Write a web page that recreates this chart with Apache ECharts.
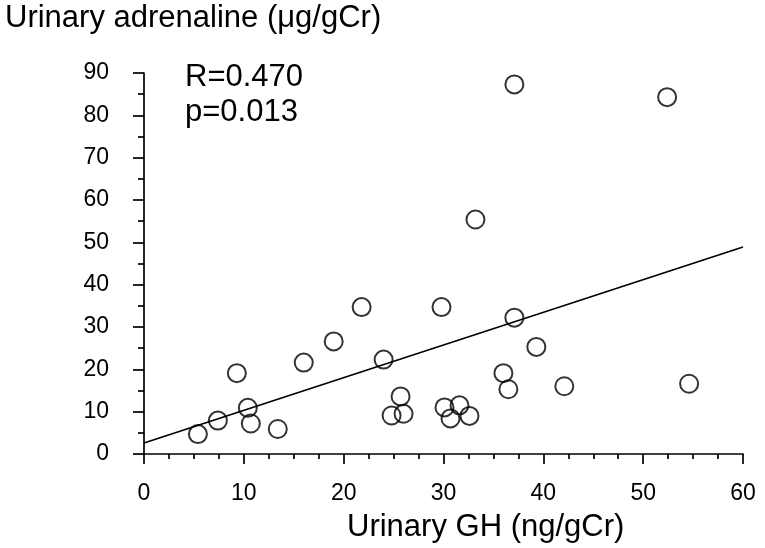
<!DOCTYPE html>
<html>
<head>
<meta charset="utf-8">
<script src="https://cdn.jsdelivr.net/npm/echarts@6/dist/echarts.min.js"></script>
<style>
html,body{margin:0;padding:0;background:#fff;}
#chart{width:765px;height:548px;}
</style>
</head>
<body>
<div id="chart"></div>
<script>
// Urinary GH (ng/gCr)
const ghValues = [5.4, 7.4, 10.4, 10.7, 13.4, 9.3, 16.0, 19.0, 21.8, 24.0, 29.8, 37.1, 39.3, 36.0, 36.5, 42.1, 25.7, 24.8, 26.0, 30.1, 31.6, 30.7, 32.6, 37.1, 52.4, 33.2, 54.6];
// Urinary adrenaline (µg/gCr)
const adrenalineValues = [4.7, 7.9, 10.9, 7.2, 5.9, 19.1, 21.6, 26.6, 34.7, 22.3, 34.7, 32.2, 25.3, 19.1, 15.3, 16.0, 13.6, 9.1, 9.5, 11.0, 11.5, 8.4, 9.0, 87.3, 84.3, 55.4, 16.6];
// regression line end points
const fitX = [0, 60];
const fitY = [2.6, 48.9];
const xTicks = [0, 10, 20, 30, 40, 50, 60];
const yTicks = [0, 10, 20, 30, 40, 50, 60, 70, 80, 90];
const yTitle = 'Urinary adrenaline (\u03bcg/gCr)';
const xTitle = 'Urinary GH (ng/gCr)';
const statR = 'R=0.470';
const statP = 'p=0.013';

const FONT = "'Liberation Sans', Arial, sans-serif";
const chart = echarts.init(document.getElementById('chart'), null, {renderer: 'canvas'});

const points = ghValues.map((x, i) => [x, adrenalineValues[i]]);
const fitLine = fitX.map((x, i) => [x, fitY[i]]);

chart.setOption({
  animation: false,
  backgroundColor: '#fff',
  grid: {left: 144, right: 22, top: 73, bottom: 94, containLabel: false},
  xAxis: {
    type: 'value', min: xTicks[0], max: xTicks[xTicks.length - 1], interval: 10,
    splitLine: {show: false},
    axisLine: {show: true, onZero: false, lineStyle: {color: '#000', width: 1.7}},
    axisTick: {show: true, inside: false, length: 10, lineStyle: {color: '#000', width: 1.7}},
    minorTick: {show: true, splitNumber: 4, length: 5, lineStyle: {color: '#000', width: 1.7}},
    axisLabel: {color: '#000', fontSize: 23, fontFamily: FONT, margin: 28}
  },
  yAxis: {
    type: 'value', min: yTicks[0], max: yTicks[yTicks.length - 1], interval: 10,
    splitLine: {show: false},
    axisLine: {show: true, onZero: false, lineStyle: {color: '#000', width: 1.7}},
    axisTick: {show: true, inside: false, length: 11, lineStyle: {color: '#000', width: 1.7}},
    minorTick: {show: true, splitNumber: 2, length: 6, lineStyle: {color: '#000', width: 1.7}},
    axisLabel: {color: '#000', fontSize: 23, fontFamily: FONT, margin: 35}
  },
  series: [
    {
      type: 'line', data: fitLine, symbol: 'none', silent: true,
      lineStyle: {color: '#000', width: 1.8}, z: 2
    },
    {
      type: 'scatter', data: points, symbol: 'circle', symbolSize: 18,
      itemStyle: {color: 'rgba(255,255,255,0)', borderColor: '#000', borderWidth: 2}, z: 3
    }
  ],
  graphic: [
    {type: 'text', left: 5, top: 3, style: {text: yTitle, font: '31px ' + FONT, fill: '#000'}},
    {type: 'text', left: 185, top: 62, style: {text: statR, font: '31px ' + FONT, fill: '#000'}},
    {type: 'text', left: 185, top: 97, style: {text: statP, font: '31px ' + FONT, fill: '#000'}},
    {type: 'text', left: 347, top: 512, style: {text: xTitle, font: '31px ' + FONT, fill: '#000'}}
  ]
});
</script>
</body>
</html>
